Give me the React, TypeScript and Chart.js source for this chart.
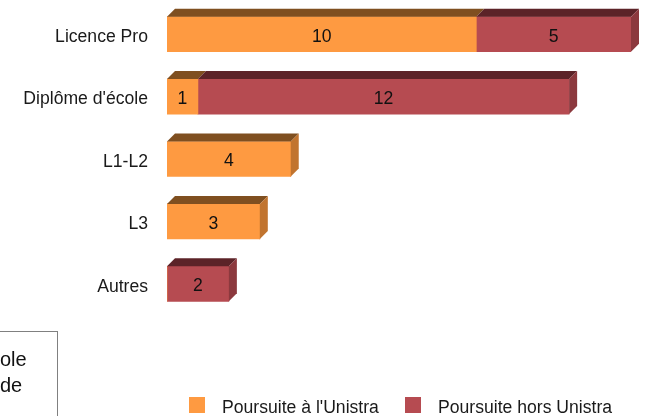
import React, { useEffect, useRef } from "react";
import { Chart, registerables } from "chart.js";

Chart.register(...registerables);

const categories = ["Licence Pro", "Diplôme d'école", "L1-L2", "L3", "Autres"];
const seriesNames = ["Poursuite à l'Unistra", "Poursuite hors Unistra"];
const unistraValues = [10, 1, 4, 3, 0];
const horsUnistraValues = [5, 12, 0, 0, 2];
const frontColors = ["#FE9A41", "#B64B51"];
const topColors = ["#7F4F20", "#5C2328"];
const sideColors = ["#C1742F", "#8C393E"];

const FONT = "'Liberation Sans', Arial, sans-serif";
const DEPTH = 8;

const bar3dPlugin = {
  id: "bar3d",
  afterDatasetsDraw(chart: any) {
    const ctx = chart.ctx;
    const n = chart.data.labels.length;
    const dsCount = chart.data.datasets.length;
    ctx.save();
    for (let i = 0; i < n; i++) {
      let last = -1;
      for (let d = 0; d < dsCount; d++) {
        if (chart.data.datasets[d].data[i]) last = d;
      }
      for (let d = 0; d < dsCount; d++) {
        const v = chart.data.datasets[d].data[i];
        if (!v) continue;
        const el = chart.getDatasetMeta(d).data[i];
        const left = Math.min(el.base, el.x);
        const right = Math.max(el.base, el.x);
        const top = el.y - el.height / 2;
        const bottom = el.y + el.height / 2;
        ctx.fillStyle = topColors[d];
        ctx.beginPath();
        ctx.moveTo(left, top);
        ctx.lineTo(left + DEPTH, top - DEPTH);
        ctx.lineTo(right + DEPTH, top - DEPTH);
        ctx.lineTo(right, top);
        ctx.closePath();
        ctx.fill();
        if (d === last) {
          ctx.fillStyle = sideColors[d];
          ctx.beginPath();
          ctx.moveTo(right, top);
          ctx.lineTo(right + DEPTH, top - DEPTH);
          ctx.lineTo(right + DEPTH, bottom - DEPTH);
          ctx.lineTo(right, bottom);
          ctx.closePath();
          ctx.fill();
        }
        ctx.fillStyle = "#111";
        ctx.font = `17.6px ${FONT}`;
        ctx.textAlign = "center";
        ctx.textBaseline = "middle";
        ctx.fillText(String(v), (left + right) / 2, el.y + 2.5);
      }
    }
    ctx.restore();
  },
};

export default function App() {
  const ref = useRef<HTMLCanvasElement>(null);
  useEffect(() => {
    document.body.style.margin = "0";
    const chart = new Chart(ref.current!, {
      type: "bar",
      data: {
        labels: categories,
        datasets: [
          { label: seriesNames[0], data: unistraValues, backgroundColor: frontColors[0] },
          { label: seriesNames[1], data: horsUnistraValues, backgroundColor: frontColors[1] },
        ],
      },
      options: {
        indexAxis: "y",
        responsive: false,
        animation: false,
        datasets: { bar: { barThickness: 35 } },
        layout: { padding: { top: 3, bottom: 101, left: 0, right: 16 } },
        plugins: { legend: { display: false }, tooltip: { enabled: false } },
        scales: {
          x: { stacked: true, min: 0, max: 15, display: false },
          y: {
            stacked: true,
            grid: { display: false, drawTicks: false },
            border: { display: false },
            ticks: {
              font: { size: 17.6, family: FONT },
              color: "#1a1a1a",
              padding: 19,
              labelOffset: 3,
            },
            afterFit(scale: any) {
              scale.width = 167;
              scale.paddingTop = 0;
              scale.paddingBottom = 0;
            },
          },
        },
      },
      plugins: [bar3dPlugin],
    } as any);
    return () => chart.destroy();
  }, []);

  const legendText: React.CSSProperties = {
    position: "absolute",
    top: 397,
    fontFamily: FONT,
    fontSize: "17.6px",
    lineHeight: "20px",
    color: "#1a1a1a",
    whiteSpace: "nowrap",
  };
  const sq = (left: number, color: string): React.CSSProperties => ({
    position: "absolute",
    left,
    top: 397,
    width: 16,
    height: 16,
    background: color,
  });

  return (
    <div style={{ position: "relative", width: 647, height: 416, overflow: "hidden", background: "#fff" }}>
      <canvas ref={ref} width={647} height={416} style={{ display: "block" }} />
      <div
        style={{
          position: "absolute",
          left: -200,
          top: 331,
          width: 256,
          height: 200,
          border: "1px solid #808080",
        }}
      />
      <div style={{ position: "absolute", left: 0, top: 346, fontFamily: FONT, fontSize: "20px", lineHeight: "26px", color: "#111" }}>
        <div>ole</div>
        <div>de</div>
      </div>
      <div style={sq(189, frontColors[0])} />
      <div style={{ ...legendText, left: 222 }}>{seriesNames[0]}</div>
      <div style={sq(405, frontColors[1])} />
      <div style={{ ...legendText, left: 438 }}>{seriesNames[1]}</div>
    </div>
  );
}
